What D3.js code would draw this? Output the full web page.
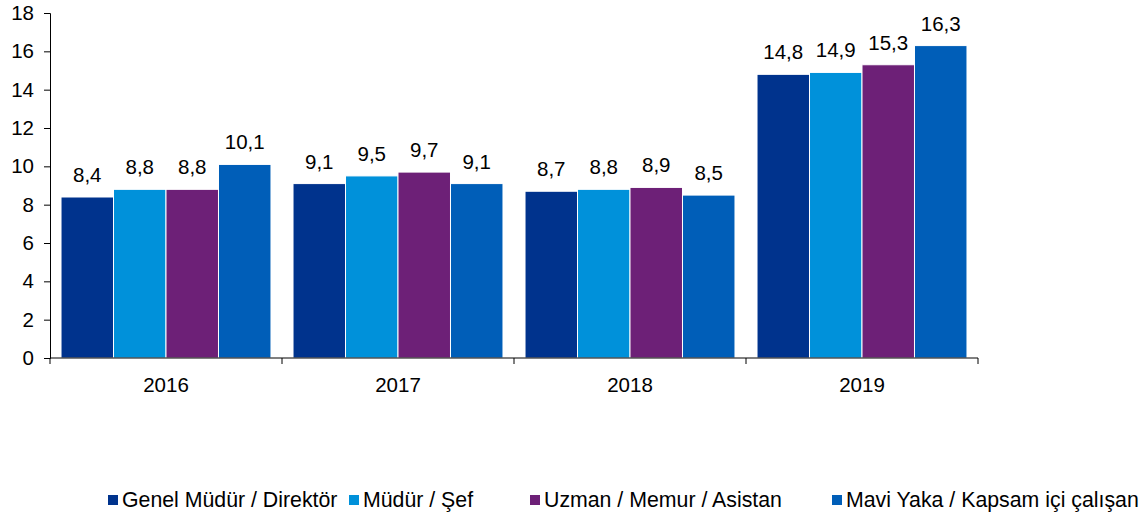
<!DOCTYPE html>
<html>
<head>
<meta charset="utf-8">
<script src="https://cdn.jsdelivr.net/npm/d3@7"></script>
<style>
  body { margin: 0; background: #fff; }
  text { font-family: "Liberation Sans", Arial, sans-serif; fill: #000; }
</style>
</head>
<body>
<div id="chart"></div>
<script>
// data
const years = ["2016", "2017", "2018", "2019"];
const seriesNames = ["Genel Müdür / Direktör", "Müdür / Şef", "Uzman / Memur / Asistan", "Mavi Yaka / Kapsam içi çalışan"];
const genelMudur = [8.4, 9.1, 8.7, 14.8];
const mudurSef = [8.8, 9.5, 8.8, 14.9];
const uzmanMemur = [8.8, 9.7, 8.9, 15.3];
const maviYaka = [10.1, 9.1, 8.5, 16.3];
const yTicks = [0, 2, 4, 6, 8, 10, 12, 14, 16, 18];

const colors = ["#00338D", "#0091DA", "#6D2077", "#005EB8"];
const seriesValues = [genelMudur, mudurSef, uzmanMemur, maviYaka];

const width = 1143, height = 516;
const margin = { left: 50, right: 165, top: 13, bottom: 158 };
const fontSize = "20.5px";

const svg = d3.select("#chart").append("svg")
  .attr("width", width)
  .attr("height", height);

const x = d3.scaleBand()
  .domain(years)
  .range([margin.left, width - margin.right])
  .paddingInner(0.095)
  .paddingOuter(0.0475);

const xSub = d3.scaleBand()
  .domain(seriesNames)
  .range([0, x.bandwidth()]);

const y = d3.scaleLinear()
  .domain([0, 18])
  .range([height - margin.bottom, margin.top]);

// bars
const groups = svg.selectAll("g.year")
  .data(years)
  .enter().append("g")
  .attr("class", "year")
  .attr("transform", d => "translate(" + x(d) + ",0)");

groups.selectAll("rect")
  .data((d, i) => seriesNames.map((s, j) => ({ name: s, value: seriesValues[j][i], color: colors[j] })))
  .enter().append("rect")
  .attr("x", d => xSub(d.name))
  .attr("width", xSub.bandwidth())
  .attr("y", d => y(d.value))
  .attr("height", d => y(0) - y(d.value))
  .attr("fill", d => d.color)
  .attr("stroke", "#fff")
  .attr("stroke-width", 1);

groups.selectAll("text.val")
  .data((d, i) => seriesNames.map((s, j) => ({ name: s, value: seriesValues[j][i] })))
  .enter().append("text")
  .attr("class", "val")
  .attr("x", d => xSub(d.name) + xSub.bandwidth() / 2)
  .attr("y", d => y(d.value) - 15)
  .attr("text-anchor", "middle")
  .style("font-size", fontSize)
  .text(d => d.value.toFixed(1).replace(".", ","));

// y axis
const yAxis = svg.append("g")
  .attr("transform", "translate(" + margin.left + ",0)")
  .call(d3.axisLeft(y).tickValues(yTicks).tickSize(6).tickPadding(10));
yAxis.selectAll("text").style("font-size", fontSize);

// x axis
const xAxis = svg.append("g")
  .attr("transform", "translate(0," + y(0) + ")");
xAxis.append("line")
  .attr("x1", margin.left).attr("x2", width - margin.right)
  .attr("stroke", "#000");
const tickPos = years.map(d => x(d) - x.step() * x.paddingInner() / 2).concat([width - margin.right]);
xAxis.selectAll("line.tick")
  .data(tickPos)
  .enter().append("line")
  .attr("class", "tick")
  .attr("x1", d => d).attr("x2", d => d)
  .attr("y1", 0).attr("y2", 6)
  .attr("stroke", "#000");
xAxis.selectAll("text")
  .data(years)
  .enter().append("text")
  .attr("x", d => x(d) + x.bandwidth() / 2)
  .attr("y", 34)
  .attr("text-anchor", "middle")
  .style("font-size", fontSize)
  .text(d => d);
svg.selectAll(".domain").attr("stroke", "#000");

// legend
const legendX = [108, 349, 530, 832];
const legend = svg.selectAll("g.legend")
  .data(seriesNames)
  .enter().append("g")
  .attr("class", "legend")
  .attr("transform", (d, i) => "translate(" + legendX[i] + ",500)");
legend.append("rect")
  .attr("x", 0).attr("y", -5)
  .attr("width", 10).attr("height", 10)
  .attr("fill", (d, i) => colors[i]);
legend.append("text")
  .attr("x", 14)
  .attr("y", 7)
  .style("font-size", "21.3px")
  .text(d => d);
</script>
</body>
</html>
